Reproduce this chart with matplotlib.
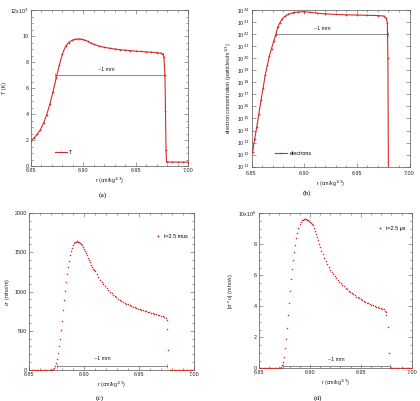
import math
import matplotlib
matplotlib.use("Agg")
import matplotlib.pyplot as plt
from matplotlib.ticker import MultipleLocator, FixedLocator, FuncFormatter

plt.rcParams['font.family'] = ['Liberation Sans', 'DejaVu Sans']

# ---------------- data ----------------
# (a) temperature, units of 10^3 K
r_T = [6.850, 6.853, 6.856, 6.859, 6.862, 6.865, 6.868, 6.871, 6.874, 6.877,
       6.880, 6.883, 6.886, 6.889, 6.892, 6.895, 6.898, 6.901, 6.904, 6.907,
       6.910, 6.915, 6.920, 6.925, 6.930, 6.935, 6.940, 6.945, 6.950, 6.955,
       6.960, 6.965, 6.970, 6.974, 6.976, 6.977, 6.978, 6.9785, 6.979, 6.9795,
       6.985, 6.990, 6.995, 7.000]
T_vals = [1.96, 2.15, 2.45, 2.80, 3.30, 3.95, 4.75, 5.70, 6.75, 7.75,
          8.62, 9.20, 9.50, 9.66, 9.74, 9.77, 9.76, 9.70, 9.60, 9.47,
          9.36, 9.22, 9.13, 9.06, 9.00, 8.95, 8.91, 8.87, 8.84, 8.81,
          8.78, 8.75, 8.72, 8.68, 8.60, 8.35, 7.00, 4.20, 1.20, 0.32,
          0.30, 0.30, 0.30, 0.30]

# (b) electron concentration, log10 values
r_e = [6.851, 6.853, 6.855, 6.857, 6.859, 6.861, 6.863, 6.865, 6.867, 6.869,
       6.871, 6.873, 6.875, 6.877, 6.879, 6.882, 6.885, 6.889, 6.894, 6.900,
       6.906, 6.912, 6.920, 6.930, 6.940, 6.950, 6.960, 6.970, 6.9755, 6.978,
       6.979, 6.9795, 6.980]
log_ne = [12.2, 13.3, 14.3, 15.4, 16.5, 17.5, 18.6, 19.4, 20.2, 20.8,
          21.4, 21.95, 22.6, 22.95, 23.25, 23.5, 23.65, 23.76, 23.83, 23.86,
          23.80, 23.74, 23.68, 23.63, 23.60, 23.58, 23.56, 23.54, 23.50, 23.30,
          22.90, 20.0, 10.0]

# (c) conductivity sigma (mho/m)
r_c = [6.8500, 6.8512, 6.8524, 6.8536, 6.8548, 6.8560, 6.8572, 6.8584, 6.8596, 6.8608,
       6.8620, 6.8632, 6.8644, 6.8656, 6.8668, 6.8680, 6.8692, 6.8704, 6.8712,
       6.8720, 6.8730, 6.8740, 6.8749, 6.8758, 6.8767, 6.8776, 6.8785, 6.8794, 6.8803,
       6.8812, 6.8821, 6.8830, 6.8839, 6.8848, 6.8857, 6.8866, 6.8875, 6.8884, 6.8893,
       6.8902, 6.8911, 6.8920, 6.8929, 6.8938, 6.8947, 6.8956, 6.8965, 6.8974, 6.8983,
       6.8992, 6.9001, 6.9010, 6.9019, 6.9028, 6.9037, 6.9046, 6.9055, 6.9064, 6.9073,
       6.9082, 6.9091,
       6.9100, 6.9115, 6.9130, 6.9145, 6.9160, 6.9175, 6.9190, 6.9205, 6.9220, 6.9235,
       6.9250, 6.9265, 6.9280, 6.9295, 6.9310, 6.9325, 6.9340, 6.9355, 6.9370, 6.9385,
       6.9400, 6.9415, 6.9430, 6.9445, 6.9460, 6.9475, 6.9490, 6.9505, 6.9520, 6.9535,
       6.9550, 6.9565, 6.9580, 6.9595, 6.9610, 6.9625, 6.9640, 6.9655, 6.9670, 6.9685,
       6.9700, 6.9715, 6.9730, 6.9742, 6.9752, 6.9758, 6.9764,
       6.9780, 6.9792, 6.9804, 6.9816, 6.9828, 6.9840, 6.9852, 6.9864, 6.9876, 6.9888,
       6.9900, 6.9912, 6.9924, 6.9936, 6.9948, 6.9960, 6.9972, 6.9984]
sigma = [0, 0, 0, 0, 0, 0, 0, 0, 0, 0,
         0, 0, 0, 0, 0, 1, 2, 3, 5,
         8, 22, 50, 90, 145, 215, 300, 400, 510, 630,
         760, 890, 1010, 1120, 1220, 1310, 1390, 1460, 1515, 1560,
         1595, 1615, 1628, 1634, 1637, 1636, 1632, 1622, 1608, 1590,
         1568, 1545, 1518, 1490, 1460, 1430, 1400, 1370, 1342, 1316,
         1292, 1270,
         1255, 1218, 1183, 1150, 1120, 1091, 1065, 1041, 1018, 995,
         975, 957, 940, 924, 909, 895, 881, 869, 857, 846,
         835, 825, 815, 806, 797, 789, 781, 773, 766, 759,
         752, 746, 739, 733, 727, 721, 715, 709, 703, 697,
         691, 685, 678, 665, 635, 518, 254,
         0, 0, 0, 0, 0, 0, 0, 0, 0, 0,
         0, 0, 0, 0, 0, 0, 0, 0]

# (d) |sigma * u|, units of 10^6 mho/s
r_d = [6.8500, 6.8512, 6.8524, 6.8536, 6.8548, 6.8560, 6.8572, 6.8584, 6.8596, 6.8608,
       6.8620, 6.8632, 6.8644, 6.8656, 6.8668, 6.8680, 6.8692, 6.8704, 6.8712,
       6.8720, 6.8729, 6.8737, 6.8745, 6.8758, 6.8768, 6.8778, 6.8787, 6.8797, 6.8808,
       6.8818, 6.8828, 6.8838, 6.8848, 6.8858, 6.8868, 6.8878, 6.8888, 6.8898, 6.8908,
       6.8918, 6.8928, 6.8938, 6.8948, 6.8958, 6.8968, 6.8978, 6.8988, 6.8998, 6.9008,
       6.9018, 6.9028, 6.9038, 6.9048, 6.9058, 6.9068, 6.9078, 6.9088, 6.9098,
       6.9110, 6.9125, 6.9140, 6.9155, 6.9170, 6.9185, 6.9200, 6.9215, 6.9230, 6.9245,
       6.9260, 6.9275, 6.9290, 6.9305, 6.9320, 6.9335, 6.9350, 6.9365, 6.9380, 6.9395,
       6.9410, 6.9425, 6.9440, 6.9455, 6.9470, 6.9485, 6.9500, 6.9515, 6.9530, 6.9545,
       6.9560, 6.9575, 6.9590, 6.9605, 6.9620, 6.9635, 6.9650, 6.9665, 6.9680, 6.9695,
       6.9710, 6.9725, 6.9738, 6.9745, 6.9752, 6.9765, 6.9775,
       6.9784, 6.9796, 6.9808, 6.9820, 6.9832, 6.9844, 6.9856, 6.9868, 6.9880, 6.9892,
       6.9904, 6.9916, 6.9928, 6.9940, 6.9952, 6.9964, 6.9976, 6.9988, 7.0000]
sigma_u = [0, 0, 0, 0, 0, 0, 0, 0, 0, 0,
           0, 0, 0, 0, 0, 0.01, 0.02, 0.03, 0.05,
           0.08, 0.20, 0.42, 0.75, 1.29, 1.87, 2.62, 3.44, 4.23, 4.99,
           5.76, 6.41, 6.99, 7.52, 7.95, 8.39, 8.75, 9.05, 9.28, 9.44,
           9.54, 9.60, 9.63, 9.64, 9.63, 9.60, 9.55, 9.50, 9.45, 9.40,
           9.33, 9.22, 9.06, 8.87, 8.67, 8.46, 8.25, 8.03, 7.82,
           7.60, 7.35, 7.12, 6.91, 6.72, 6.54, 6.37, 6.22, 6.08, 5.95,
           5.82, 5.70, 5.59, 5.48, 5.38, 5.28, 5.18, 5.09, 5.00, 4.92,
           4.84, 4.77, 4.70, 4.63, 4.57, 4.51, 4.45, 4.39, 4.34, 4.29,
           4.24, 4.19, 4.15, 4.10, 4.06, 4.02, 3.98, 3.95, 3.91, 3.88,
           3.84, 3.80, 3.72, 3.62, 3.44, 2.66, 0.97,
           0, 0, 0, 0, 0, 0, 0, 0, 0, 0,
           0, 0, 0, 0, 0, 0, 0, 0, 0]

# "~1 mm" markers: (x start, x end), y
bar_a = ([6.873, 6.977], 7.0)
bar_b = ([6.873, 6.980], 1e22)
bar_c = ([6.8752, 6.9757], 55)
bar_d = ([6.8732, 6.9784], 0.17)

x_ticks = [6.85, 6.90, 6.95, 7.00]

# ---------------- figure ----------------
RED = '#d42a2a'
GRAY = '#8a8a8a'
AX = '#555555'
FS = 3.9

fig = plt.figure(figsize=(4.2, 4.01), dpi=100)

def style(ax, xpad=1.5):
    for s in ax.spines.values():
        s.set_color(AX)
        s.set_linewidth(0.5)
    ax.tick_params(which='both', direction='in', top=True, right=True,
                   colors=AX, labelcolor='#222222', labelsize=FS, width=0.4, pad=1.5)
    ax.tick_params(axis='x', which='both', pad=xpad)
    ax.tick_params(which='major', length=3)
    ax.tick_params(which='minor', length=1.5)
    ax.set_xlim(6.85, 7.00)
    ax.xaxis.set_major_locator(FixedLocator(x_ticks))
    ax.xaxis.set_major_formatter(FuncFormatter(lambda v, p: f"{v:.2f}"))
    ax.xaxis.set_minor_locator(MultipleLocator(0.01))
    ax.set_xlabel(r"r (cm/kg$^{1/3}$)", fontsize=FS, labelpad=2, color='#222222')

def mm_bar(ax, bar, tx, ty):
    xs, y = bar
    ax.plot(xs, [y, y], color=GRAY, lw=0.7, marker='|', ms=2.5, mew=0.6, zorder=1)
    ax.text(tx, ty, "~1 mm", fontsize=FS, ha='center', va='bottom', color='#222222')

# (a)
axa = fig.add_axes([31/420, 1-166/401, 157/420, 156/401])
axa.plot(r_T, T_vals, color=RED, lw=0.8, marker='+', ms=1.8, mew=0.5, label='T', zorder=3)
mm_bar(axa, bar_a, 6.922, 7.25)
axa.set_ylim(0, 12)
axa.yaxis.set_major_locator(MultipleLocator(2))
axa.yaxis.set_minor_locator(MultipleLocator(0.5))
axa.yaxis.set_major_formatter(FuncFormatter(
    lambda v, p: r"12x10$^3$" if abs(v-12) < 1e-6 else f"{v:.0f}"))
axa.set_ylabel("T (K)", fontsize=FS, labelpad=2, color='#222222')
style(axa)
axa.legend(loc='lower left', bbox_to_anchor=(0.12, 0.04), fontsize=FS, frameon=False,
           handlelength=2.2, handletextpad=0.4)

# (b)
axb = fig.add_axes([251.5/420, 1-166.7/401, 158/420, 156.7/401])
ne = [10**v for v in log_ne]
axb.plot(r_e, ne, color=RED, lw=0.8, marker='+', ms=1.8, mew=0.5, label='electrons', zorder=3)
mm_bar(axb, bar_b, 6.917, 10**22.25)
axb.set_yscale('log')
axb.set_ylim(1e11, 1e24)
axb.yaxis.set_major_locator(FixedLocator([10.0**k for k in range(11, 25)]))
axb.yaxis.set_minor_locator(FixedLocator([]))
axb.yaxis.set_major_formatter(FuncFormatter(lambda v, p: r"10$^{%d}$" % round(math.log10(v))))
axb.set_ylabel(r"electron concentration (particles/m$^{1/3}$)", fontsize=FS, labelpad=2, color='#222222')
style(axb, xpad=3.0)
axb.legend(loc='lower left', bbox_to_anchor=(0.12, 0.04), fontsize=FS, frameon=False,
           handlelength=2.2, handletextpad=0.4)

# (c)
axc = fig.add_axes([29/420, 1-370/401, 165/420, 157/401])
axc.plot(r_c, sigma, ls='none', marker='o', ms=1.1, mew=0, color=RED, label='t=2.5 mus', zorder=3)
mm_bar(axc, bar_c, 6.917, 120)
axc.set_ylim(0, 2000)
axc.yaxis.set_major_locator(MultipleLocator(500))
axc.yaxis.set_minor_locator(MultipleLocator(100))
axc.set_ylabel(r"$\sigma$  (mho/m)", fontsize=FS, labelpad=2, color='#222222')
style(axc)
axc.legend(loc='upper right', bbox_to_anchor=(0.99, 0.90), fontsize=FS, frameon=False,
           handlelength=1.0, handletextpad=0.6, markerscale=1.3)

# (d)
axd = fig.add_axes([259/420, 1-368.3/401, 152.7/420, 155/401])
axd.plot(r_d, sigma_u, ls='none', marker='o', ms=1.1, mew=0, color=RED, label='t=2.5 μs', zorder=3)
mm_bar(axd, bar_d, 6.926, 0.4)
axd.set_ylim(0, 10)
axd.yaxis.set_major_locator(MultipleLocator(2))
axd.yaxis.set_minor_locator(MultipleLocator(0.5))
axd.yaxis.set_major_formatter(FuncFormatter(
    lambda v, p: r"10x10$^6$" if abs(v-10) < 1e-6 else f"{v:.0f}"))
axd.set_ylabel(r"|$\sigma$ * u| (mho/s)", fontsize=FS, labelpad=2, color='#222222')
style(axd)
axd.legend(loc='upper right', bbox_to_anchor=(0.99, 0.95), fontsize=FS, frameon=False,
           handlelength=1.0, handletextpad=0.6, markerscale=1.3)

# captions
for x, y, s in [(103, 195, "(a)"), (307, 193, "(b)"), (100, 398, "(c)"), (318, 398, "(d)")]:
    fig.text(x/420, 1-y/401, s, fontsize=5.3, family='Liberation Serif', ha='center', va='center')

fig.savefig("out.png", dpi=100, facecolor='white')
